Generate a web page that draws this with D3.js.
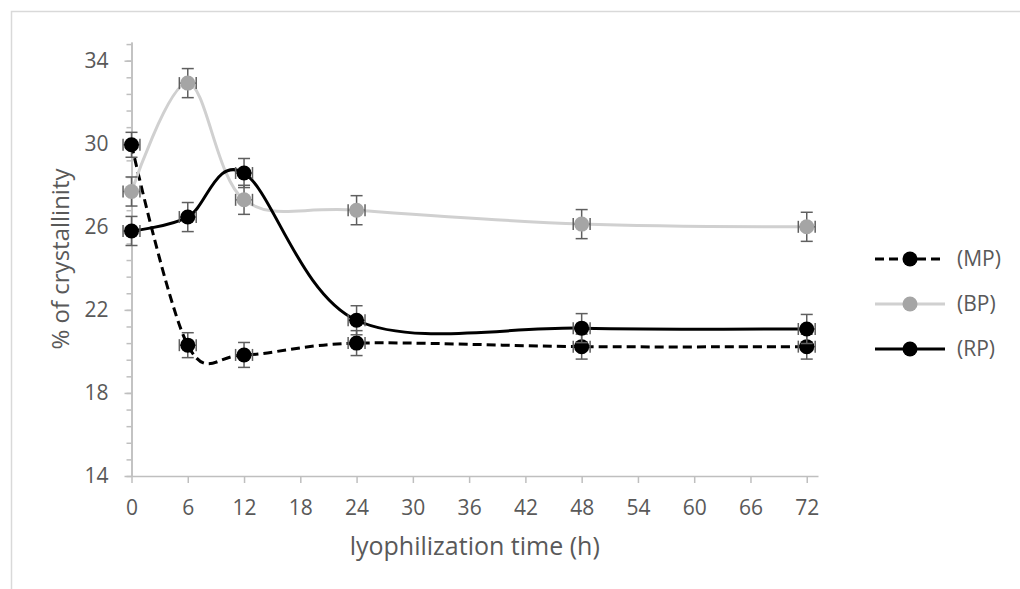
<html>
<head>
<meta charset="utf-8">
<script src="https://d3js.org/d3.v7.min.js"></script>
<style>
  body { margin: 0; background: #fff; }
  text { font-family: "Open Sans", sans-serif; fill: #595959; }
</style>
</head>
<body>
<div id="chartContainer"></div>
<script type="text/javascript">

// data
var hours = [0, 6, 12, 24, 48, 72];
var mpValues = [29.95, 20.3, 19.83, 20.4, 20.23, 20.23];
var bpValues = [27.7, 32.92, 27.3, 26.8, 26.13, 26.0];
var rpValues = [25.8, 26.47, 28.59, 21.5, 21.12, 21.08];
var mpErr = [0.6, 0.6, 0.6, 0.6, 0.6, 0.6];
var bpErr = [0.7, 0.7, 0.7, 0.7, 0.7, 0.7];
var rpErr = [0.7, 0.7, 0.7, 0.7, 0.7, 0.7];
var hourErr = [0.9, 0.9, 0.9, 0.9, 0.9, 0.9];
var xTicks = [0, 6, 12, 18, 24, 30, 36, 42, 48, 54, 60, 66, 72];
var yTicks = [14, 18, 22, 26, 30, 34];
var seriesNames = ["(MP)", "(BP)", "(RP)"];

var width = 1020, height = 589;
var svg = d3.select("#chartContainer").append("svg")
    .attr("width", width)
    .attr("height", height);

// outer chart border (cut off at right and bottom like the original)
svg.append("rect")
    .attr("x", 11.5).attr("y", 11.5)
    .attr("width", 1030).attr("height", 600)
    .attr("fill", "none")
    .attr("stroke", "#d9d9d9")
    .attr("stroke-width", 1.5);

var x = d3.scaleLinear().domain([0, 73.2]).range([131.5, 818]);
var y = d3.scaleLinear().domain([14, 34.9]).range([476, 42]);

// axes
var xAxis = svg.append("g")
    .attr("transform", "translate(0," + y(14) + ")")
    .call(d3.axisBottom(x).tickValues(xTicks).tickSize(7).tickSizeOuter(0).tickPadding(5));

var minorTicks = d3.range(0, 27).map(function (i) { return 14 + i * 0.8; });
svg.append("g")
    .attr("transform", "translate(" + x(0) + ",0)")
    .call(d3.axisLeft(y).tickValues(minorTicks).tickSize(5).tickSizeOuter(0).tickFormat(""));

var yAxis = svg.append("g")
    .attr("transform", "translate(" + x(0) + ",0)")
    .call(d3.axisLeft(y).tickValues(yTicks).tickSize(7).tickSizeOuter(0).tickPadding(16));

svg.selectAll(".domain, .tick line")
    .attr("stroke", "#bfbfbf")
    .attr("stroke-width", 1.5);
svg.selectAll(".tick text")
    .style("font-size", "21px")
    .attr("fill", "#595959");
xAxis.selectAll(".tick text").attr("dy", "1.27em");

// axis titles
svg.append("text")
    .attr("x", (x(0) + x(73.2)) / 2)
    .attr("y", 555)
    .style("text-anchor", "middle")
    .style("font-size", "25px")
    .text("lyophilization time (h)");

svg.append("text")
    .attr("transform", "translate(69," + (y(14) + y(34.9)) / 2 + ") rotate(-90)")
    .style("text-anchor", "middle")
    .style("font-size", "24px")
    .text("% of crystallinity");

// series
var series = [
  { name: seriesNames[0], values: mpValues, err: mpErr, line: "#000", marker: "#000", dash: "9,5" },
  { name: seriesNames[1], values: bpValues, err: bpErr, line: "#d0d0d0", marker: "#a5a5a5", dash: null },
  { name: seriesNames[2], values: rpValues, err: rpErr, line: "#000", marker: "#000", dash: null }
];

// excel-like smoothed line
var line = d3.line()
    .x(function (d) { return x(d[0]); })
    .y(function (d) { return y(d[1]); })
    .curve(d3.curveCardinal.tension(0));

var cap = 6;

series.forEach(function (s) {
    var pts = hours.map(function (h, i) { return [h, s.values[i], s.err[i], hourErr[i]]; });
    var g = svg.append("g");

    g.append("path")
        .datum(pts)
        .attr("d", line)
        .attr("fill", "none")
        .attr("stroke", s.line)
        .attr("stroke-width", 3)
        .attr("stroke-dasharray", s.dash);

    // error bars (vertical and horizontal)
    var eb = g.selectAll(".err").data(pts).enter().append("g")
        .attr("stroke", "#5f5f5f")
        .attr("stroke-width", 1.5);
    eb.append("line")
        .attr("x1", function (d) { return x(d[0]); })
        .attr("x2", function (d) { return x(d[0]); })
        .attr("y1", function (d) { return y(d[1] - d[2]); })
        .attr("y2", function (d) { return y(d[1] + d[2]); });
    eb.append("line")
        .attr("x1", function (d) { return x(d[0]) - cap; })
        .attr("x2", function (d) { return x(d[0]) + cap; })
        .attr("y1", function (d) { return y(d[1] + d[2]); })
        .attr("y2", function (d) { return y(d[1] + d[2]); });
    eb.append("line")
        .attr("x1", function (d) { return x(d[0]) - cap; })
        .attr("x2", function (d) { return x(d[0]) + cap; })
        .attr("y1", function (d) { return y(d[1] - d[2]); })
        .attr("y2", function (d) { return y(d[1] - d[2]); });
    eb.append("line")
        .attr("x1", function (d) { return x(d[0] - d[3]); })
        .attr("x2", function (d) { return x(d[0] + d[3]); })
        .attr("y1", function (d) { return y(d[1]); })
        .attr("y2", function (d) { return y(d[1]); });
    eb.append("line")
        .attr("x1", function (d) { return x(d[0] - d[3]); })
        .attr("x2", function (d) { return x(d[0] - d[3]); })
        .attr("y1", function (d) { return y(d[1]) - cap; })
        .attr("y2", function (d) { return y(d[1]) + cap; });
    eb.append("line")
        .attr("x1", function (d) { return x(d[0] + d[3]); })
        .attr("x2", function (d) { return x(d[0] + d[3]); })
        .attr("y1", function (d) { return y(d[1]) - cap; })
        .attr("y2", function (d) { return y(d[1]) + cap; });

    g.selectAll("circle").data(pts).enter().append("circle")
        .attr("cx", function (d) { return x(d[0]); })
        .attr("cy", function (d) { return y(d[1]); })
        .attr("r", 7.5)
        .attr("fill", s.marker);
});

// legend
var legend = svg.append("g");
series.forEach(function (s, i) {
    var ly = 259 + i * 45;
    legend.append("line")
        .attr("x1", 875).attr("x2", 945)
        .attr("y1", ly).attr("y2", ly)
        .attr("stroke", s.line)
        .attr("stroke-width", 3)
        .attr("stroke-dasharray", s.dash);
    legend.append("circle")
        .attr("cx", 910).attr("cy", ly)
        .attr("r", 7.5)
        .attr("fill", s.marker);
    legend.append("text")
        .attr("x", 957).attr("y", ly)
        .attr("dy", "0.35em")
        .style("font-size", "21px")
        .text(s.name);
});

</script>
</body>
</html>
